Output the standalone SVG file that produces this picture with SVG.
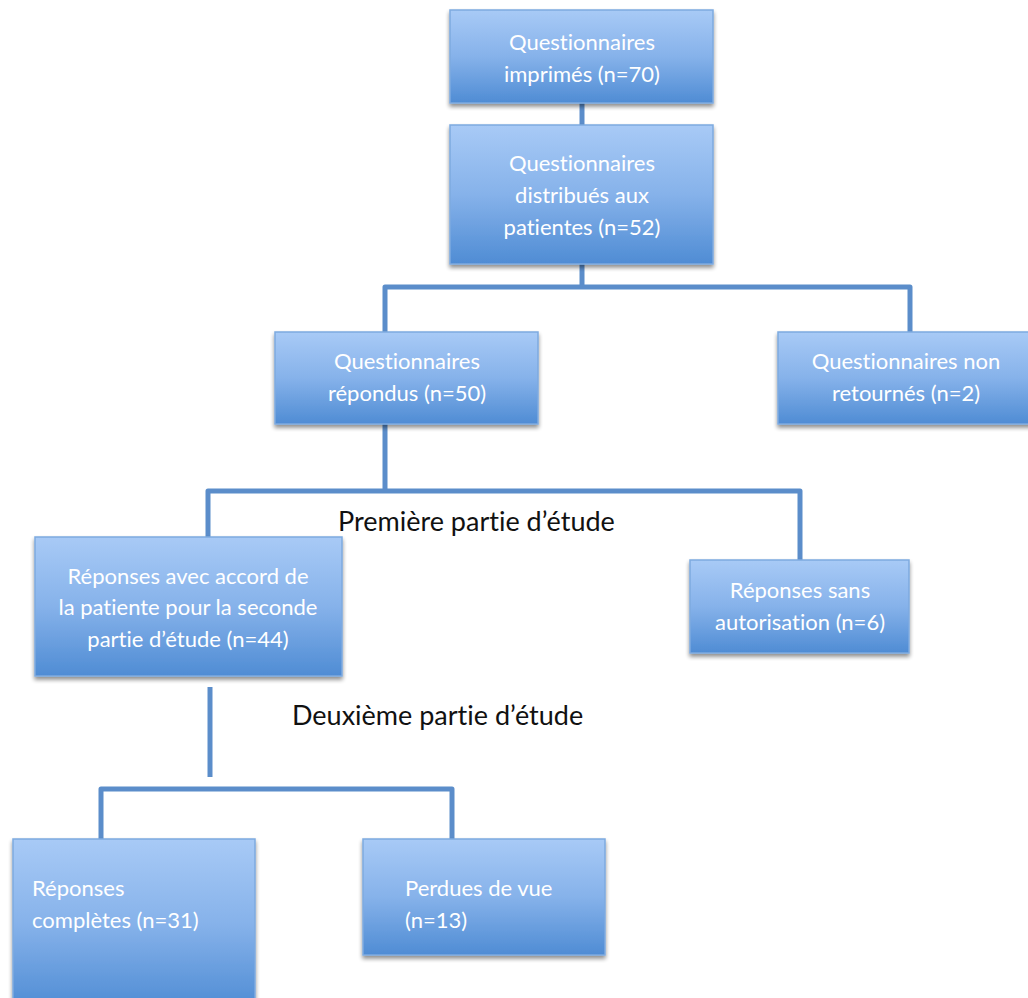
<svg xmlns="http://www.w3.org/2000/svg" width="1028" height="998" viewBox="0 0 1028 998">
<defs>
<linearGradient id="g" x1="0" y1="0" x2="0" y2="1">
<stop offset="0" stop-color="#a8caf6"/>
<stop offset="0.5" stop-color="#86b2ea"/>
<stop offset="1" stop-color="#4f8cd4"/>
</linearGradient>
<filter id="sh" x="-10%" y="-10%" width="120%" height="130%">
<feGaussianBlur in="SourceAlpha" stdDeviation="2"/>
<feOffset dx="0" dy="3" result="b"/>
<feComponentTransfer><feFuncA type="linear" slope="0.45"/></feComponentTransfer>
<feMerge><feMergeNode/><feMergeNode in="SourceGraphic"/></feMerge>
</filter>
</defs>
<style>
.box{fill:url(#g);stroke:#7eaadf;stroke-width:1.5;filter:url(#sh)}
.t{font-family:Lato,"Liberation Sans",sans-serif;font-size:22px;fill:#ffffff;font-variant-ligatures:none}
.c{text-anchor:middle}
.lbl{font-family:Lato,"Liberation Sans",sans-serif;font-size:27px;fill:#111111;font-variant-ligatures:none}
.conn{fill:none;stroke:#5b8dca;stroke-width:5;stroke-linejoin:round}
</style>
<rect width="1028" height="998" fill="#ffffff"/>
<g id="connectors">
<path class="conn" d="M582,103 V125"/>
<path class="conn" d="M582,264 V287 M385,332 V287 H910 V332"/>
<path class="conn" d="M385,424 V491 M208,537 V491 H800 V560"/>
<path class="conn" d="M210,687 V777"/>
<path class="conn" d="M101,839 V789 H452 V839"/>
</g>
<g id="n1"><rect class="box" x="450" y="10" width="263" height="93"/>
<text class="t c" x="582" y="50">Questionnaires</text><text class="t c" x="582" y="82">imprimés (n=70)</text></g>
<g id="n2"><rect class="box" x="450" y="125" width="263" height="139"/>
<text class="t c" x="582" y="171">Questionnaires</text><text class="t c" x="582" y="203">distribués aux</text><text class="t c" x="582" y="235">patientes (n=52)</text></g>
<g id="n3"><rect class="box" x="275" y="332" width="263" height="92"/>
<text class="t c" x="407" y="369">Questionnaires</text><text class="t c" x="407" y="401">répondus (n=50)</text></g>
<g id="n4"><rect class="box" x="778" y="332" width="260" height="92"/>
<text class="t c" x="906" y="369">Questionnaires non</text><text class="t c" x="906" y="401">retournés (n=2)</text></g>
<g id="n5"><rect class="box" x="35" y="537" width="307" height="139"/>
<text class="t c" x="188" y="584">Réponses avec accord de</text><text class="t c" x="188" y="615">la patiente pour la seconde</text><text class="t c" x="188" y="647">partie d’étude (n=44)</text></g>
<g id="n6"><rect class="box" x="690" y="560" width="219" height="93"/>
<text class="t c" x="800" y="598">Réponses sans</text><text class="t c" x="800" y="630">autorisation (n=6)</text></g>
<g id="n7"><rect class="box" x="13" y="839" width="242" height="170"/>
<text class="t" x="32" y="896">Réponses</text><text class="t" x="32" y="928">complètes (n=31)</text></g>
<g id="n8"><rect class="box" x="363" y="839" width="242" height="116"/>
<text class="t" x="405" y="896">Perdues de vue</text><text class="t" x="405" y="928">(n=13)</text></g>
<text class="lbl" x="338" y="531">Première partie d’étude</text>
<text class="lbl" x="292" y="725">Deuxième partie d’étude</text>
</svg>
